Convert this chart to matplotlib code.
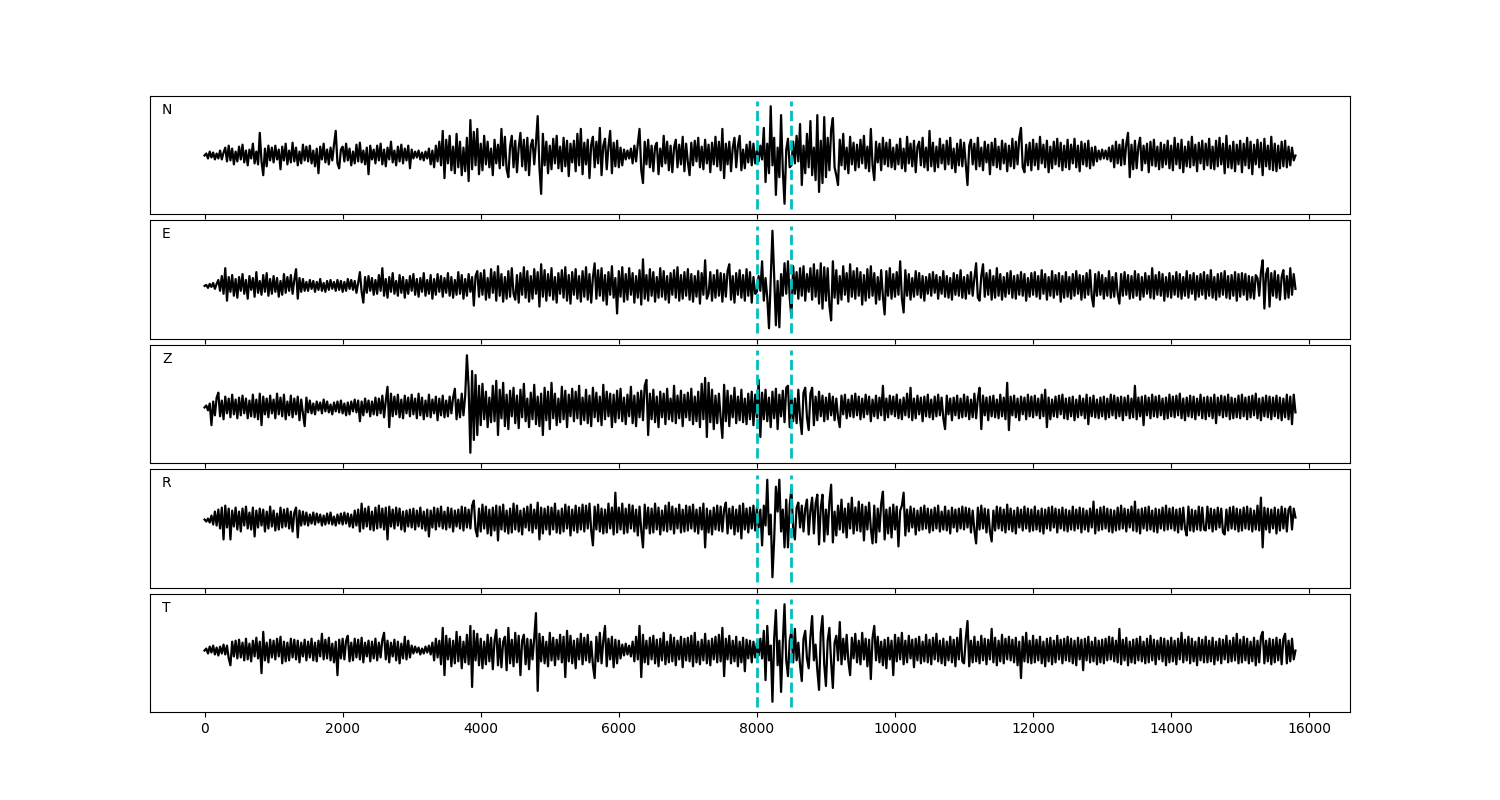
"""
Five-component seismogram panels (N, E, Z, R, T) with two picks marked
as dashed cyan lines. Amplitudes were read off the reference by eye.
"""

import numpy as np
import matplotlib
matplotlib.use("Agg")
import matplotlib.pyplot as plt

# ---------------------------------------------------------------------------
# Data (one value every 25 samples, amplitude in arbitrary units)
# ---------------------------------------------------------------------------

SAMPLE_STEP = 25
PICKS = [8000, 8500]
COMPONENTS = ["N", "E", "Z", "R", "T"]

trace_n = [
    0, 2, -3, 4, -2, 3, -4, 2, -3, 5, -4, 3, 8, -6, 10, -5, 7, -9, 4, -6,
    9, -4, 11, -7, 5, -10, 6, -3, 12, -8, 4, -9, 23, -6, -20, 7, -11, 10, -5, 8,
    -7, 10, -4, 6, -14, 9, -5, 12, -9, 5, -7, 13, -6, 8, -10, 4, -8, 11, -5, 9,
    -6, 10, -8, 5, -11, 7, -18, 9, -4, 12, -7, 6, -9, 8, -5, 11, 25, -8, -13, 6,
    9, -6, 12, -5, 7, -10, 4, -8, 11, -6, 13, -7, 5, -9, 8, -19, 10, -4, 6, -8,
    10, -5, 12, -9, 6, -11, 8, -4, 14, -7, 5, -10, 9, -6, 11, -8, 7, -5, 10, -13,
    6, -3, 4, -2, 5, -4, 3, -5, 4, -3, 7, -9, 5, -12, 10, -6, 14, -10, 25, -23,
    16, -8, 20, -15, 9, -18, 22, -12, 14, -20, 8, -16, 18, -26, 36, -14, 24, -10, 27, -19,
    12, -15, 20, -9, 14, -12, 7, -20, 16, -8, 11, -13, 27, -10, 19, -14, -22, 9, 20, -12,
    15, -17, 8, 23, -11, 16, -15, 18, -20, 10, 16, -9, 13, 40, -12, -39, 22, -10, 14, -18,
    10, -14, 17, -8, 20, -13, 9, -16, 18, -11, 15, -21, 12, -7, 15, -16, 22, -10, 27, -19,
    13, -9, 16, -23, 11, 19, -12, 14, -8, 28, -20, 10, 17, -14, 9, 25, -18, 13, -11, 15,
    -12, 8, -10, 6, -4, 5, -3, 7, -8, 10, -6, 12, 27, -15, -28, 14, -9, 16, -12, 10,
    -16, 9, 13, -19, 7, -11, 20, -8, 14, -15, 10, -17, 8, 16, -12, 11, -9, 19, -16, 12,
    -7, -20, 13, -10, 15, -6, 18, -12, 9, -14, 16, -8, 11, -17, 13, -9, 19, -11, 14, -15,
    27, -23, 12, -9, 14, -16, 8, 18, -12, 10, 20, -15, 6, -13, 11, -7, 14, -10, 12, -8,
    5, -6, 10, -4, 28, -27, 12, -18, 50, -10, 18, -40, 8, -22, 41, -15, -49, 6, 17, -12,
    -10, 14, -8, 20, -6, 32, -30, 10, -18, 22, -12, 35, -20, 8, -25, 41, -37, 15, -28, 39,
    -22, 18, -15, 26, 38, -12, -20, -30, 16, -10, 22, -14, 8, -18, 19, -9, 13, -15, 11, -12,
    16, -8, 20, -13, 9, -16, 27, -10, -25, 14, -7, 12, -15, 18, -9, 13, -11, 16, -12, 8,
    -14, 11, -9, 17, -13, 7, -16, 19, -8, 12, -11, 15, -17, 9, 14, -10, 18, -12, 8, -15,
    25, -11, 13, -16, 9, -12, 17, -8, 11, -14, 15, -9, 18, -13, 7, -17, 12, -10, 16, -11,
    13, -8, -30, 10, 16, -9, 12, -14, 18, -11, 8, -15, 14, -7, 11, -19, 13, -10, 17, -12,
    9, -14, 15, -8, 12, -16, 10, -11, 17, -13, 14, -9, 18, 28, -12, -17, 11, -10, 13, -15,
    16, -10, 12, -14, 19, -8, 11, -12, 15, -17, 9, -13, 14, -9, 17, -11, 13, -15, 10, -12,
    16, -14, 11, -8, 17, -12, 10, -16, 14, -9, 12, -11, 15, -13, 8, -10, 9, -6, 5, -4,
    6, -3, 5, -4, 8, -6, 10, -12, 14, -8, 11, -10, 16, -9, 12, 23, -22, 11, -14, 15,
    -13, 9, 18, -15, 10, -8, 12, -17, 14, -10, 16, -11, 9, -14, 13, -12, 11, -9, 15, -13,
    10, -15, 18, -9, 12, -13, 16, -17, 9, -11, 14, -12, 19, -10, 11, -16, 13, -8, 15, -14,
    12, -10, 17, -13, 9, -14, 15, -11, 18, -9, 12, -18, 20, -12, 10, -13, 14, -16, 11, -9,
    15, -17, 12, -10, 18, -13, 14, -19, 11, -9, 16, -12, 13, -20, 17, -11, 10, -14, 19, -15,
    12, -16, 10, -13, 14, -11, 15, -12, 9, -10, 8, -5, 0,
]

trace_e = [
    0, 1, -2, 2, -1, 3, -3, 2, 6, -5, 10, -8, 18, -15, 9, -6, 11, -10, 7, -12,
    9, -5, 12, -8, 6, -13, 10, -4, 8, -11, 14, -7, 5, -9, 11, -6, 13, -10, 7, -8,
    10, -6, 8, -11, 5, -9, 12, -7, 9, -5, 11, -8, 6, 17, -13, 8, -6, 7, -5, 4,
    -5, 6, -3, 5, -6, 4, -4, 7, -5, 3, -6, 5, -4, 6, -3, 4, -5, 6, -4, 5,
    -6, 4, -5, 7, -3, 6, -4, 5, -7, 3, 14, -6, -17, 9, -7, 10, -5, 8, -9, 6,
    -8, 11, -5, 18, -10, 7, -12, 9, -6, 13, -8, 5, -10, 11, -7, 9, -12, 6, -8, 10,
    -5, 12, -9, 7, -11, 8, -6, 13, -10, 6, -8, 11, -13, 7, -9, 12, -6, 10, -11, 8,
    -7, 13, -10, 9, -12, 6, -9, 14, -8, 11, -13, 7, -10, 12, -6, 9, -20, 10, 15, -11,
    13, -9, 16, -14, 8, -12, 17, -7, 14, -15, 20, -10, 12, -16, 9, -13, 15, -11, 18, -8,
    -14, 11, -17, 13, -9, 19, -12, 15, -16, 10, -13, 17, -8, 14, -21, 22, -11, 16, -15, 12,
    -10, 18, -14, 9, -17, 13, -8, 16, -12, 19, -15, 11, -18, 14, -9, 17, -13, 10, -16, 15,
    -11, 19, -14, 12, -17, 9, 23, -13, 16, -10, 18, -15, 11, -19, 14, -9, 20, -12, 8, -28,
    15, -11, 19, -16, 12, -14, 18, -9, 13, -17, 10, -12, 16, -19, 27, -13, 11, -15, 17, -10,
    14, -16, 9, -12, 18, -11, 15, -14, 10, -17, 13, -9, 16, -12, 19, -15, 11, -13, 14, -10,
    17, -14, 12, -16, 10, -11, 15, -18, 13, -9, 26, -13, -8, 14, -15, 11, -12, 16, -10, 13,
    -16, 12, -11, 15, 22, -14, 10, -17, 13, -9, 16, -12, 11, -15, 17, -10, 14, -17, 9, -8,
    -6, 10, -5, 25, -15, 8, -12, -43, 5, 56, 10, -40, 5, -42, 12, -10, 23, -8, 25, -12,
    -32, 20, -8, 14, -13, 18, -10, 20, -15, 12, -6, 18, -14, 22, -11, 16, -18, 23, -23, 19,
    -15, 18, -20, -35, 25, -12, 16, -18, 10, -14, 20, -9, 13, -16, 22, -11, 15, -13, 18, -10,
    14, -19, 11, -15, 17, -12, 20, -10, 13, -18, 9, -14, 16, -11, -29, 15, -10, 18, -13, 12,
    -11, 14, -9, 25, -13, -27, 16, -10, 12, -14, 8, -11, 15, -9, 13, -12, 10, -15, 9, -8,
    12, -10, 14, -7, 11, -13, 9, -8, 15, -11, 10, -12, 8, -14, 13, -9, 11, -10, 16, -12,
    9, -13, 11, -8, 14, -10, 8, 23, -12, -15, 10, 22, -11, 13, -9, 16, -14, 10, -12, 18,
    -10, 12, -14, 9, -11, 13, -8, 15, -12, 10, -13, 11, -9, 14, -10, 12, -15, 8, -11, 13,
    -9, 14, -11, 10, -13, 16, -8, 12, -14, 9, -10, 15, -12, 11, -9, 13, -16, 10, -12, 14,
    -11, 9, -13, 12, -10, 15, -8, 11, -14, 10, -12, 13, -9, 16, -11, -21, 12, -10, 14, -9,
    11, -13, 8, -10, 15, -12, 9, -11, 13, -8, -18, 12, -10, 14, -9, 11, -13, 10, -12, 15,
    -10, 12, -14, 9, -11, 13, -8, 10, -12, 18, -13, 11, -9, 14, -10, 12, -15, 9, -11, 13,
    -12, 10, -9, 14, -11, 12, -13, 9, -10, 15, -12, 11, -8, 13, -14, 10, -11, 12, -9, 14,
    -13, 11, -10, 16, -12, 9, -14, 12, -11, 13, -9, 15, -12, 10, -13, 11, -10, 14, -15, 12,
    -11, 13, -9, 12, -14, 10, -12, 9, -13, 11, 8, -10, 14, 26, -23, 12, 18, -21, 13, -10,
    15, -12, 11, -14, 9, 16, -13, 10, -12, 18, -9, 12, -3,
]

trace_z = [
    0, 2, -3, 4, -18, 6, -8, 10, 15, -9, 7, -12, 11, -6, 9, -10, 13, -7, 8, -11,
    10, -8, 12, -6, 9, -11, 7, -9, 13, -10, 8, -12, 14, -18, 11, -7, 9, -10, 12, -6,
    8, -11, 14, -7, 10, -9, 13, -12, 6, -8, 12, -10, 9, -7, 11, -13, 8, -6, -19, 10,
    -5, 7, -6, 4, -7, 6, -3, 5, -6, 8, -4, 6, -5, 3, -7, 5, -4, 6, -5, 7,
    -6, 4, -8, 5, -7, 6, -4, 8, -5, 7, -14, 6, -8, 9, -5, 7, -9, 6, -7, 10,
    -8, 9, -6, 12, -10, 7, 21, -20, 14, -9, 11, -7, 13, -10, 8, -11, 12, -6, 10, -9,
    13, -7, 9, -11, 14, -8, 10, -12, 7, -9, 13, -10, 8, -6, 11, -13, 9, -8, 12, -10,
    7, -9, 11, -6, 10, 19, -12, 8, -10, 14, -8, 12, 53, 20, -46, 37, -33, 33, -28, 22,
    -18, 24, -12, 16, -20, 10, -15, 22, -14, 27, -28, 18, -11, 25, -19, 13, -22, 17, -9, 20,
    -16, 12, -21, 18, -10, 24, -14, 9, -20, 15, -12, 23, -17, 11, -19, 14, -28, 20, -13, 16,
    -22, 25, -11, 14, -18, 9, -15, 21, -12, 17, -20, 13, -9, 19, -14, 16, -11, 22, -17, 10,
    -13, 18, -16, 12, -19, 20, -10, 15, -14, 11, -18, 23, -12, 16, -9, 14, -20, 13, -15, 17,
    -11, 19, -14, 10, -17, 13, -9, 21, -16, 12, -19, 15, -10, 17, -13, 22, 28, -28, 14, -12,
    18, -15, 11, -20, 16, -10, 14, -17, 19, -12, 9, -14, 22, -16, 12, -11, 17, -19, 13, -10,
    15, -13, 19, -17, 11, -14, 16, -20, 24, -12, 30, -30, 25, -15, 18, -22, 12, -16, 14, -11,
    -31, 23, -14, 17, -19, 12, -10, 20, -16, 11, -13, 18, -15, 9, -17, 14, -12, 16, -18, 13,
    -10, 28, -30, 15, -12, 18, -14, 10, -20, 16, -11, 19, -22, 13, -9, 17, -15, 20, 22, -20,
    12, -14, 9, -16, 18, -11, -27, 15, 20, -10, -23, 14, 20, -18, 11, -13, 16, -9, 12, -14,
    10, -12, 14, -8, 11, -13, 9, -10, -20, 12, -7, 13, -11, 8, -9, 12, -10, 14, -8, 11,
    -12, 9, -10, 13, -7, 11, -14, 8, -9, 12, -11, 10, -8, 22, -13, 9, -10, 12, -7, 11,
    -9, 13, -11, 8, -12, 10, -8, 14, -10, 20, -13, 9, -11, 12, -7, 10, -14, 11, -9, 13,
    -10, 8, -12, 11, -9, 13, -8, 10, -11, -22, 12, -7, 9, -13, 10, -8, 12, -11, 9, -10,
    13, -9, 11, -12, 8, -10, 14, -11, 9, 20, -22, 12, -8, 10, -13, 11, -9, 12, -10, 8,
    -11, 13, -9, 10, -12, 25, -23, 11, -8, 12, -10, 9, -13, 11, -7, 10, -12, 13, -9, 11,
    -10, 12, -8, 9, -11, 13, -9, 18, -20, 10, -12, 8, -9, 11, -10, 12, -7, 13, -11, 9,
    -12, 10, -9, 11, -13, 8, -10, 12, -8, 9, -11, 13, -17, 10, -9, 12, -10, 8, -11, 10,
    -9, 11, -12, 9, -10, 13, -8, 12, -11, 10, -9, 11, -13, 10, -8, 12, -11, 9, -10, 22,
    -12, 10, -9, 11, -18, 12, -8, 10, -11, 13, -9, 11, -10, 12, -8, 9, -12, 10, -11, 13,
    -9, 11, -10, 12, -8, 14, -11, 9, -13, 10, -9, 12, -10, 11, -12, 9, -8, 13, -11, 10,
    -12, 11, -9, 10, -11, 13, -16, 10, -8, 12, -10, 11, -9, 13, -12, 10, -11, 9, -10, 12,
    -11, 13, -9, 10, -12, 11, -10, 12, -8, 14, -11, 9, -13, 10, -9, 12, -10, 11, -12, 10,
    -9, 12, -11, 10, -13, 9, -10, 13, -12, 11, -17, 13, -5,
]

trace_r = [
    0, -2, 1, -3, 4, -5, 8, -6, 10, -9, 12, -20, 14, -8, 11, -20, 9, -7, 12, -10,
    8, -12, 11, -6, 13, -9, 7, -10, 12, -17, 9, -8, 11, -6, 10, -12, 8, -9, 13, -7,
    9, -11, 6, -10, 12, -8, 10, -7, 11, -9, 8, -12, 7, 12, -18, 9, -6, 8, -5, 7,
    -6, 5, -4, 7, -5, 6, -3, 5, -6, 4, -5, 6, -4, 7, -5, 3, -6, 5, -4, 6,
    -5, 7, -4, 6, -7, 5, -8, 9, -6, 10, -12, 16, -9, 11, -7, 13, -10, 8, -11, 12,
    -9, 14, -8, 11, -10, 12, -20, 13, -7, 10, -9, 12, -6, 11, -10, 8, -12, 9, -7, 10,
    -8, 11, -10, 9, -7, 12, -9, 8, -11, 10, -17, 9, -8, 12, -10, 11, -7, 13, -9, 8,
    -10, 12, -8, 11, -12, 9, -7, 10, -9, 13, -11, 12, -8, 10, -9, 14, 19, -10, -17, 11,
    -12, 15, -9, 13, -14, 10, -16, 12, -11, 14, -21, 13, -10, 15, -12, 9, -14, 11, -13, 16,
    -10, 14, -12, 9, -15, 11, -8, 13, -11, 15, -13, 10, -9, 17, -20, 12, -14, 11, -10, 13,
    -15, 12, -10, 16, -13, 9, -14, 11, -12, 15, -9, 13, -16, 10, -11, 14, -13, 12, -10, 15,
    -12, 14, -9, 16, -11, -26, 13, -10, 15, -12, 11, -14, 10, -13, 16, -9, 12, -15, 27, -13,
    12, -10, 16, -14, 11, -13, 15, -9, 14, -12, 10, -16, 13, -11, -28, 15, -9, 12, -14, 11,
    -13, 16, -10, 12, -15, 9, -11, 14, -12, 17, -10, 13, -14, 11, -9, 15, -13, 10, -12, 14,
    -11, 13, -9, 15, -12, 10, -14, 12, -10, 16, -28, 11, -13, 9, -15, 12, -10, 14, -11, 13,
    -12, 10, 17, -14, 11, -9, 13, -15, 10, -12, 14, -19, 16, -10, 11, -13, 12, -9, 14, -11,
    12, -8, 10, -26, 14, -6, 40, -15, 5, -58, -20, 33, 8, 40, -12, 10, -28, 20, -28, 15,
    31, -10, -20, 12, 17, -8, 14, -12, 11, 20, -15, 9, 22, -14, 16, 25, -25, 12, 25, -22,
    10, -15, 18, 35, -23, 8, -16, 14, -10, 20, -13, 11, -18, 16, -9, 22, -14, 12, -11, 18,
    -12, 15, -21, 13, -10, 17, -9, -24, 14, -23, 11, -12, 16, 28, -20, 10, -14, 12, -18, 15,
    -10, 13, -27, 9, 14, 27, -16, 10, -12, 13, -8, 11, -15, 9, -11, 12, -10, 14, -9, 11,
    -13, 10, -11, 12, -9, 14, -12, 8, -10, 13, -11, 9, -14, 12, -8, 10, -12, 11, -9, 13,
    -10, 12, -8, 11, -13, 9, -11, -24, 12, -10, 14, -9, 11, -13, 10, -12, -22, 9, -11, 13,
    -9, 12, -11, 10, -13, 15, -10, 11, -12, 9, -14, 12, -8, 10, -11, 13, -9, 11, -12, 10,
    -11, 13, -10, 9, -12, 11, -14, 10, -9, 12, -11, 13, -8, 11, -13, 10, -9, 12, -11, 10,
    -12, 9, -10, 13, -11, 10, -9, 12, -13, 11, -10, 9, -12, 11, -8, 18, -14, 10, -11, 12,
    -10, 13, -9, 11, -12, 10, -13, 9, -11, 12, -10, 14, -9, 11, -12, 10, -8, 13, -11, 18,
    -12, 10, -14, 11, -9, 12, -11, 13, -10, 9, -12, 11, -13, 10, -9, 12, -11, 14, -10, 11,
    -9, 12, -11, 10, -13, 11, -10, 12, -9, -16, 13, -11, 10, -12, 9, -10, 13, -11, 12, -10,
    -11, 13, -9, 11, -12, 10, -10, 12, -8, 11, -13, -15, 10, -11, 12, -9, 13, -10, 11, -12,
    10, -11, 12, -9, 13, -10, 11, -12, 9, -10, 14, -11, 22, -28, 12, -10, 11, -13, 10, -9,
    12, -14, 10, -11, 13, -9, 11, -12, 10, 13, -10, 11, 2,
]

trace_t = [
    0, 2, -3, 4, -2, 5, -4, 3, -5, 4, -3, 6, -4, 5, -8, -15, 9, -6, 10, -8,
    11, -7, 8, -10, 12, -9, 7, -11, 10, -6, 13, -8, 9, -23, 19, -10, 8, -12, 11, -7,
    10, -9, 12, -6, 14, -13, 9, -11, 8, -10, 12, -7, 11, -9, 10, -12, 8, -6, 11, -10,
    9, -7, 12, -10, 8, -11, 10, -6, 17, -9, 11, -8, 13, -10, 7, -12, 9, -25, 11, -8,
    12, -9, 10, 15, -11, 8, -10, 12, -7, 11, -9, 13, -12, 8, -6, 10, -11, 9, -8, 12,
    -10, 8, -7, 11, 18, -9, 10, -12, 8, -6, 11, -10, 9, -13, 7, -8, 14, -9, 10, -7,
    5, -3, 4, -2, 3, -4, 2, -3, 4, -2, 5, -4, 8, -10, 12, -7, 10, -14, 23, -25,
    15, -9, 12, -16, 10, -13, 19, -11, 14, -18, 9, -12, 16, -14, 25, -37, 20, -10, 17, -15,
    12, -18, 9, -14, 16, -11, 13, -19, 10, 21, -15, 12, -17, 9, 14, -20, 23, -13, 11, -16,
    18, -12, 15, -25, 10, 16, -14, 12, -19, 11, -9, 13, 38, -41, 17, -11, 14, -13, 9, -16,
    18, -10, 13, -15, 11, -9, 16, -12, 14, -27, 20, -11, 15, -13, 10, -18, 12, -9, 17, -14,
    13, -10, 16, -12, 9, -15, -28, 14, -11, 18, -13, 10, 25, -16, 12, -9, 14, -17, 11, -13,
    10, -8, 6, -5, 7, -4, 5, -6, 9, -11, 14, -9, 25, -27, 16, -12, 10, -14, 13, -9,
    15, -13, 11, -16, 12, -10, 18, -14, 9, -12, 16, -11, 13, -15, 10, -9, 14, -17, 12, -10,
    13, -11, 15, -16, 18, -12, 9, -14, 11, -10, 17, -13, 10, -15, 12, -9, 14, -12, 16, -11,
    23, -26, 12, -9, 15, -13, 10, -11, 14, -16, 9, -12, 13, -21, 11, -8, 10, -12, 9, -7,
    8, -5, 12, -8, 20, -30, 25, -10, 5, -52, 12, 41, -15, 10, -42, 8, 47, -10, -26, 10,
    20, -12, 22, -10, 8, -15, -31, 12, 20, -8, -18, 14, 35, -10, 6, -20, -40, 18, 35, -14,
    -36, 10, 23, -12, -38, 8, 15, -10, 29, -14, 12, -9, 16, -11, -25, 13, -8, 17, -12, 10,
    -14, 18, -9, 12, -16, 11, -29, 13, 25, -10, 14, -12, 9, -15, 11, -18, 13, -9, 10, -25,
    16, -11, 13, -9, 18, -14, 10, -12, 15, -8, 11, -17, 12, -10, 14, -13, 9, -11, 16, -12,
    11, -14, 13, -9, 17, -11, 10, -13, 12, -15, 9, -10, 14, -12, 11, -16, 13, -9, 22, -11,
    -13, 12, 30, -16, 10, -12, 14, -11, 9, -13, 15, -10, 12, -14, 11, -9, 22, -12, 13, -15,
    10, -11, 16, -13, 12, -9, 14, -10, 11, -12, 13, -15, 9, -28, 14, -11, 18, -12, 10, -13,
    15, -12, 11, -10, 14, -13, 9, -16, 12, -11, 13, -14, 10, -12, 15, -9, 11, -13, 12, -10,
    14, -11, 12, -13, 10, -15, 13, -9, 11, -20, 12, -10, 14, -12, 9, -11, 13, -14, 10, -12,
    11, -13, 12, -10, 14, -9, 13, -11, 10, -12, 22, -14, 11, -10, 13, -15, 9, -12, 11, -13,
    12, -10, 14, -11, 9, -13, 12, -12, 15, -10, 11, -14, 10, -9, 13, -11, 12, -15, 10, -12,
    13, -11, 10, -14, 12, -9, 18, -12, 11, -10, 14, -13, 12, -11, 9, -15, 13, -10, 11, -12,
    14, -12, 10, -11, 13, -14, 9, -10, 12, -13, 11, -9, 15, -12, 10, -11, 13, -10, 17, -13,
    11, -12, 14, -10, 12, -13, 9, -11, 13, -15, 10, -12, 14, 19, -13, 10, -11, 12, -14, 11,
    -12, 13, -10, 11, -14, 12, 17, -13, 10, -11, 12, -9, 0,
]

TRACES = [trace_n, trace_e, trace_z, trace_r, trace_t]


# ---------------------------------------------------------------------------
# Plot
# ---------------------------------------------------------------------------

fig, axes = plt.subplots(len(COMPONENTS), 1, figsize=(15, 8), sharex=True)
fig.subplots_adjust(left=0.1, right=0.9, top=0.88, bottom=0.11, hspace=0.055)

for ax, label, trace in zip(axes, COMPONENTS, TRACES):
    y = np.array(trace, dtype=float)
    x = np.arange(len(y)) * SAMPLE_STEP
    ax.plot(x, y, color="k", lw=1.6)

    # pick lines span the trace range plus a little padding
    pad = 0.05 * (y.max() - y.min())
    ax.vlines(PICKS, y.min() - pad, y.max() + pad,
              colors="c", linestyles="--", lw=2)

    ax.text(0.01, 0.85, label, transform=ax.transAxes, fontsize=10)
    ax.set_yticks([])

axes[-1].set_xticks(np.arange(0, 16001, 2000))

plt.savefig("out.png", dpi=100)
plt.close()
